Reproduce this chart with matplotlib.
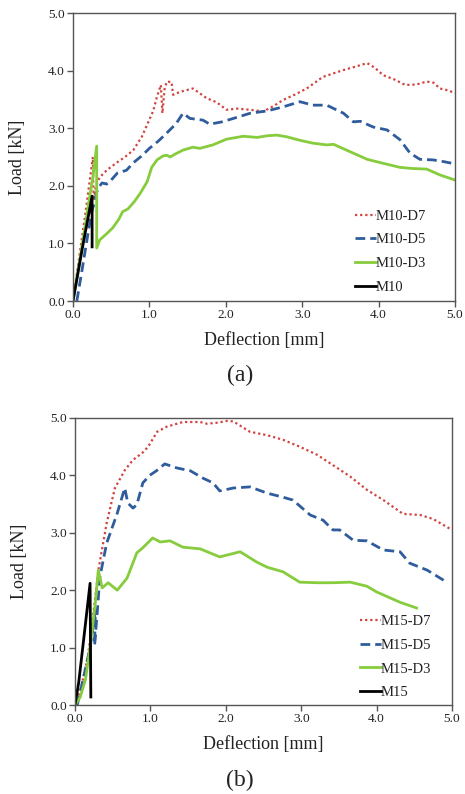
import matplotlib
matplotlib.use("Agg")
import matplotlib.pyplot as plt

plt.rcParams['font.family'] = ['Liberation Serif', 'DejaVu Serif']

# ---------------- Panel (a) data ----------------
a_d7_x = [0.0, 0.08, 0.16, 0.22, 0.26, 0.27, 0.30, 0.35, 0.45, 0.57, 0.68, 0.79, 0.90, 0.98, 1.05, 1.10, 1.15,
          1.17, 1.20, 1.23, 1.29, 1.31, 1.40, 1.57, 1.75, 1.88, 2.01, 2.15, 2.32, 2.49, 2.62, 2.75, 2.90, 3.06,
          3.27, 3.54, 3.70, 3.85, 3.95, 4.06, 4.20, 4.35, 4.50, 4.63, 4.72, 4.80, 4.90, 5.0]
a_d7_y = [0.0, 0.75, 1.50, 2.10, 2.50, 1.75, 2.00, 2.15, 2.28, 2.40, 2.50, 2.62, 2.85, 3.09, 3.30, 3.55, 3.75,
          3.26, 3.70, 3.81, 3.80, 3.58, 3.63, 3.69, 3.52, 3.45, 3.32, 3.34, 3.32, 3.29, 3.38, 3.49, 3.58, 3.69,
          3.89, 4.01, 4.07, 4.13, 4.05, 3.92, 3.85, 3.75, 3.76, 3.81, 3.79, 3.69, 3.66, 3.61]

a_d5_x = [0.05, 0.12, 0.20, 0.25, 0.28, 0.31, 0.34, 0.38, 0.44, 0.50, 0.58, 0.70, 0.79, 0.90, 1.00, 1.12, 1.23,
          1.35, 1.44, 1.53, 1.70, 1.79, 1.95, 2.10, 2.32, 2.54, 2.75, 2.97, 3.14, 3.32, 3.54, 3.67, 3.76, 3.93,
          4.11, 4.28, 4.41, 4.54, 4.71, 4.85, 5.0]
a_d5_y = [0.0, 0.55, 1.20, 1.58, 1.70, 1.89, 1.98, 2.05, 2.03, 2.10, 2.22, 2.27, 2.40, 2.52, 2.65, 2.78, 2.92,
          3.08, 3.26, 3.17, 3.14, 3.07, 3.11, 3.17, 3.26, 3.30, 3.37, 3.46, 3.40, 3.40, 3.26, 3.11, 3.12, 3.02,
          2.97, 2.80, 2.57, 2.46, 2.45, 2.42, 2.38]

a_d3_x = [0.0, 0.10, 0.20, 0.26, 0.31, 0.31, 0.35, 0.45, 0.52, 0.60, 0.65, 0.72, 0.80, 0.88, 0.97, 1.03, 1.10,
          1.18, 1.23, 1.27, 1.35, 1.44, 1.57, 1.66, 1.83, 2.01, 2.23, 2.41, 2.55, 2.67, 2.80, 2.97, 3.14, 3.32,
          3.41, 3.63, 3.85, 4.06, 4.28, 4.45, 4.63, 4.80, 5.0]
a_d3_y = [0.0, 0.80, 1.65, 2.15, 2.69, 0.92, 1.06, 1.18, 1.27, 1.42, 1.55, 1.60, 1.72, 1.87, 2.07, 2.32, 2.45,
          2.52, 2.53, 2.50, 2.56, 2.62, 2.67, 2.65, 2.71, 2.81, 2.86, 2.84, 2.87, 2.88, 2.85, 2.79, 2.74, 2.71,
          2.72, 2.59, 2.46, 2.39, 2.32, 2.30, 2.29, 2.19, 2.10]

a_m_x = [0.0, 0.12, 0.25, 0.25]
a_m_y = [0.0, 0.90, 1.82, 0.94]

# ---------------- Panel (b) data ----------------
b_d7_x = [0.0, 0.08, 0.17, 0.24, 0.31, 0.42, 0.50, 0.53, 0.66, 0.77, 0.90, 0.97, 1.09, 1.22, 1.43, 1.66, 1.75,
          1.90, 2.02, 2.10, 2.32, 2.55, 2.76, 2.98, 3.21, 3.42, 3.65, 3.87, 4.09, 4.35, 4.58, 4.75, 5.0]
b_d7_y = [0.0, 0.30, 0.84, 1.55, 2.35, 3.17, 3.62, 3.78, 4.09, 4.27, 4.40, 4.50, 4.76, 4.85, 4.93, 4.93, 4.90,
          4.92, 4.95, 4.94, 4.76, 4.70, 4.62, 4.50, 4.36, 4.18, 3.98, 3.75, 3.57, 3.33, 3.31, 3.24, 3.05]

b_d5_x = [0.03, 0.10, 0.20, 0.27, 0.26, 0.30, 0.33, 0.42, 0.56, 0.66, 0.70, 0.77, 0.82, 0.90, 0.99, 1.09, 1.19,
          1.35, 1.53, 1.70, 1.83, 1.92, 2.10, 2.32, 2.55, 2.76, 2.89, 3.12, 3.29, 3.42, 3.51, 3.69, 3.87, 4.09,
          4.31, 4.44, 4.67, 4.93]
b_d5_y = [0.0, 0.40, 1.00, 1.65, 1.04, 1.70, 2.23, 2.82, 3.34, 3.78, 3.52, 3.43, 3.49, 3.87, 4.00, 4.09, 4.20,
          4.13, 4.08, 3.95, 3.87, 3.73, 3.78, 3.80, 3.69, 3.62, 3.57, 3.31, 3.22, 3.05, 3.05, 2.87, 2.86, 2.70,
          2.67, 2.47, 2.35, 2.14]

b_d3_x = [0.0, 0.07, 0.14, 0.20, 0.27, 0.31, 0.36, 0.44, 0.56, 0.69, 0.82, 0.90, 1.03, 1.13, 1.26, 1.43, 1.66,
          1.92, 2.19, 2.41, 2.55, 2.76, 2.98, 3.21, 3.42, 3.65, 3.87, 4.00, 4.31, 4.53]
b_d3_y = [0.0, 0.14, 0.45, 1.01, 1.78, 2.35, 2.04, 2.13, 2.00, 2.21, 2.65, 2.74, 2.91, 2.84, 2.86, 2.75, 2.72,
          2.58, 2.67, 2.49, 2.40, 2.32, 2.14, 2.13, 2.13, 2.14, 2.07, 1.97, 1.79, 1.69]

b_m_x = [0.0, 0.05, 0.12, 0.20, 0.21]
b_m_y = [0.0, 0.40, 1.20, 2.12, 0.14]

xticks = [0.0, 1.0, 2.0, 3.0, 4.0, 5.0]
yticks = [0.0, 1.0, 2.0, 3.0, 4.0, 5.0]
tick_labels = ["0.0", "1.0", "2.0", "3.0", "4.0", "5.0"]

RED = "#D0433F"
BLUE = "#2F5C9C"
GREEN = "#86CC3C"
BLACK = "#000000"
TXT = "#222222"

fig = plt.figure(figsize=(4.65, 7.94), dpi=100)
ax1 = fig.add_axes([73/465, 1-301/794, (455-73)/465, (301-13)/794])
ax2 = fig.add_axes([75/465, 1-705/794, (452-75)/465, (705-418)/794])


def style(ax, name_prefix, d7, d5, d3, m, leg_anchor):
    ax.plot(d7[0], d7[1], color=RED, lw=1.6, ls=(0, (1, 1.3)), label=name_prefix + "-D7")
    ax.plot(d5[0], d5[1], color=BLUE, lw=2.0, ls=(0, (3.5, 1.8)), label=name_prefix + "-D5")
    ax.plot(d3[0], d3[1], color=GREEN, lw=2.0, label=name_prefix + "-D3")
    ax.plot(m[0], m[1], color=BLACK, lw=2.0, label=name_prefix)
    ax.set_xlim(0, 5)
    ax.set_ylim(0, 5)
    ax.set_xticks(xticks)
    ax.set_xticklabels(tick_labels)
    ax.set_yticks(yticks)
    ax.set_yticklabels(tick_labels)
    ax.tick_params(direction='out', length=4, width=1, colors="#555555", labelcolor=TXT,
                   labelsize=9.6, pad=2)
    for s in ax.spines.values():
        s.set_color("#555555")
        s.set_linewidth(1.0)
    ax.set_xlabel("Deflection [mm]", fontsize=13, color=TXT, labelpad=8)
    ax.set_ylabel("Load [kN]", fontsize=13, color=TXT, labelpad=16)
    leg = ax.legend(loc='lower right', bbox_to_anchor=leg_anchor, frameon=False, fontsize=10.5,
                    handlelength=1.45, handletextpad=0.0, labelspacing=0.72, borderaxespad=0.0,
                    borderpad=0.0)
    for t in leg.get_texts():
        t.set_color(TXT)


style(ax1, "M10", (a_d7_x, a_d7_y), (a_d5_x, a_d5_y), (a_d3_x, a_d3_y), (a_m_x, a_m_y), (0.925, 0.025))
style(ax2, "M15", (b_d7_x, b_d7_y), (b_d5_x, b_d5_y), (b_d3_x, b_d3_y), (b_m_x, b_m_y), (0.945, 0.02))

fig.text(240/465, 1-375/794, "(a)", ha='center', va='center', fontsize=17, color=TXT)
fig.text(240/465, 1-780/794, "(b)", ha='center', va='center', fontsize=17, color=TXT)

fig.savefig("out.png", dpi=100)
